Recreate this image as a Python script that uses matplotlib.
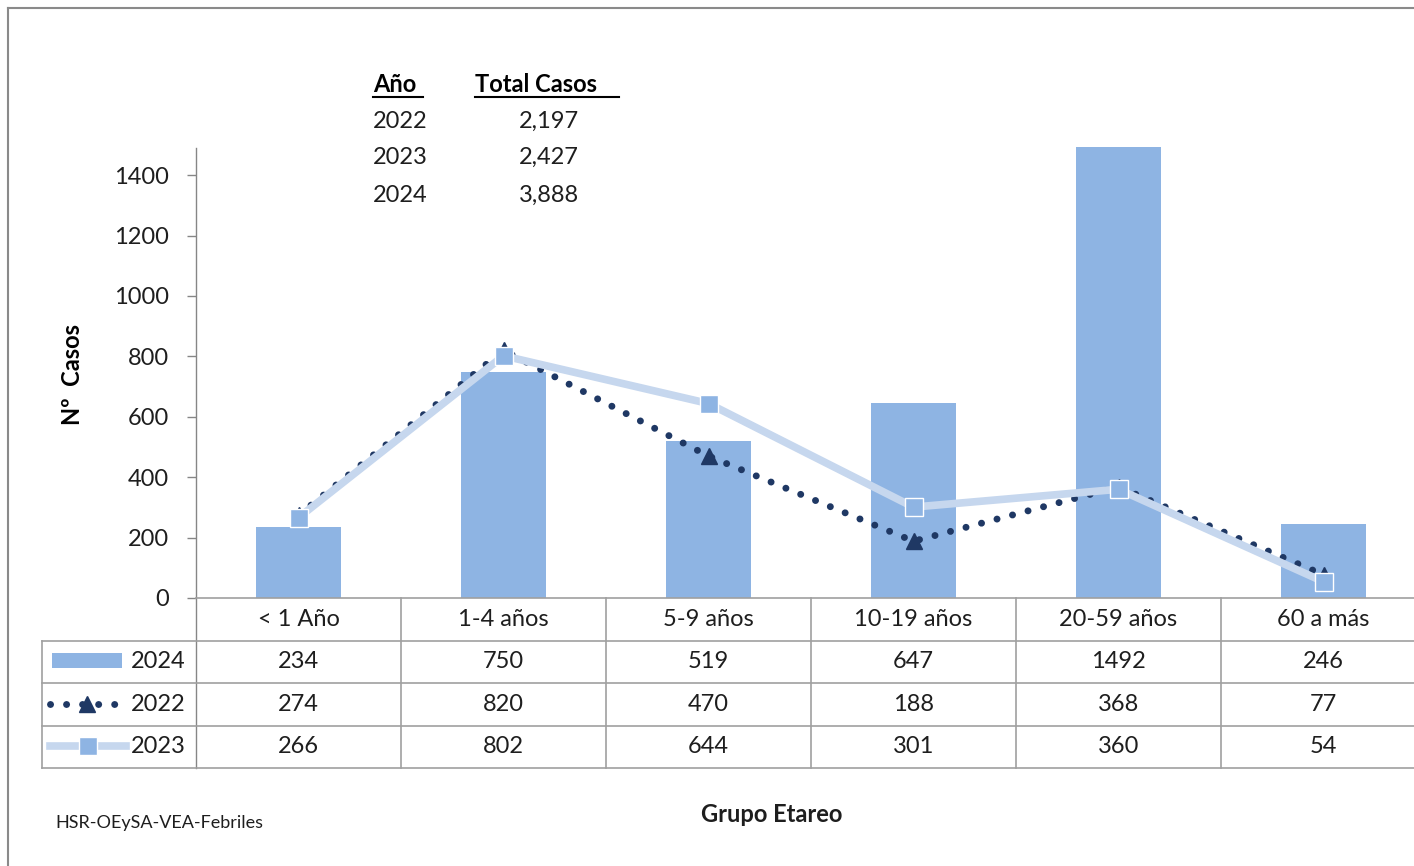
import matplotlib.pyplot as plt
from matplotlib.lines import Line2D
from matplotlib.patches import Rectangle
from matplotlib.transforms import blended_transform_factory
import numpy as np

plt.rcParams['font.family'] = ['Lato', 'DejaVu Sans']

categories = ['< 1 Año', '1-4 años', '5-9 años', '10-19 años', '20-59 años', '60 a más']
cases_2024 = [234, 750, 519, 647, 1492, 246]
cases_2022 = [274, 820, 470, 188, 368, 77]
cases_2023 = [266, 802, 644, 301, 360, 54]

years = ['2022', '2023', '2024']
totals = ['2,197', '2,427', '3,888']

bar_color = '#8eb4e3'
navy = '#1f3864'
light = '#c6d7ee'
grid_gray = '#a0a0a0'
txt = '#1e1e1e'
dots = (0, (0.01, 2.3))

W, H = 1414, 866
fig = plt.figure(figsize=(W / 100, H / 100), dpi=100)


def px(x, y):
    # pixel position (from top-left) -> figure fraction
    return x / W, 1 - y / H


# plot area: x 196..1426, y 145..598 (0..1500)
ax = fig.add_axes([196 / W, 1 - 598 / H, 1230 / W, 453 / H])
x = np.arange(len(categories))
ax.set_xlim(-0.5, len(categories) - 0.5)
ax.set_ylim(0, 1500)

ax.bar(x, cases_2024, width=0.41, color=bar_color, zorder=2)
ax.plot(x, cases_2022, color=navy, lw=5, linestyle=dots,
        dash_capstyle='round', marker='^', ms=11, mfc=navy, mec=navy, zorder=3)
ax.plot(x, cases_2023, color=light, lw=5.5, marker='s', ms=13,
        mfc=bar_color, mec='white', mew=1, zorder=4, solid_capstyle='round')

for s in ax.spines.values():
    s.set_visible(False)
ax.set_xticks([])
ax.set_yticks(np.arange(0, 1401, 200))
ax.tick_params(axis='y', length=6.5, width=1, color='#868686', pad=13,
               labelsize=17, labelcolor=txt)

# table below the axis, in data x / axes-fraction y
tr = blended_transform_factory(ax.transData, ax.transAxes)
row_h = 42.5 / 453
rows_y = [0, -row_h, -2 * row_h, -3 * row_h, -4 * row_h]
left_x = -0.5 - 154 / 205

ax.plot([-0.5, -0.5], [1 - 3 / 453, rows_y[-1]], color='#868686', lw=1,
        transform=tr, clip_on=False)
ax.plot([-0.5, len(categories) - 0.5], [0, 0], color=grid_gray, lw=1.2,
        transform=tr, clip_on=False)
for yy in rows_y[1:]:
    ax.plot([left_x, len(categories) - 0.5], [yy, yy], color=grid_gray, lw=1.2,
            transform=tr, clip_on=False)
ax.plot([left_x, left_x], [rows_y[1], rows_y[-1]], color=grid_gray, lw=1.2,
        transform=tr, clip_on=False)
for b in np.arange(0.5, len(categories) - 0.5):
    ax.plot([b, b], [0, rows_y[-1]], color=grid_gray, lw=1.2,
            transform=tr, clip_on=False)

table_rows = [categories, cases_2024, cases_2022, cases_2023]
for r, vals in enumerate(table_rows):
    yc = (rows_y[r] + rows_y[r + 1]) / 2
    for i, v in enumerate(vals):
        ax.text(i, yc, str(v), transform=tr, ha='center', va='center',
                fontsize=17, color=txt, clip_on=False)

# legend keys in left column
label_x = -0.5 - 10 / 205
for r, name in zip([1, 2, 3], ['2024', '2022', '2023']):
    yc = (rows_y[r] + rows_y[r + 1]) / 2
    ax.text(label_x, yc, name, transform=tr, ha='right', va='center',
            fontsize=17, color=txt, clip_on=False)

x0, y0 = px(52, 668)
x1, y1 = px(122, 653)
fig.add_artist(Rectangle((x0, y0), x1 - x0, y1 - y0, transform=fig.transFigure,
                         facecolor=bar_color, edgecolor='none'))
lx0, ly = px(50, 704)
lx1, _ = px(124, 704)
fig.add_artist(Line2D([lx0, lx1], [ly, ly], transform=fig.transFigure, color=navy,
                      lw=5, linestyle=dots, dash_capstyle='round'))
mx, _ = px(87, 704)
fig.add_artist(Line2D([mx], [ly], transform=fig.transFigure, marker='^', ms=11,
                      color=navy, lw=0))
lx0, ly = px(50, 746)
lx1, _ = px(126, 746)
fig.add_artist(Line2D([lx0, lx1], [ly, ly], transform=fig.transFigure, color=light,
                      lw=5.5))
mx, _ = px(88, 746)
fig.add_artist(Line2D([mx], [ly], transform=fig.transFigure, marker='s', ms=13,
                      mfc=bar_color, mec='white', mew=1, lw=0))

# axis titles and source
fig.text(*px(72, 375), 'Nº  Casos', rotation=90, ha='center', va='center',
         fontsize=17, fontweight='bold', color='black')
fig.text(*px(772, 815), 'Grupo Etareo', ha='center', va='center',
         fontsize=17, fontweight='bold', color=txt)
fig.text(*px(55, 823), 'HSR-OEySA-VEA-Febriles', ha='left', va='center',
         fontsize=13, color=txt)

# totals box
fig.text(*px(373, 84), 'Año', ha='left', va='center', fontsize=17,
         fontweight='bold', color='black')
fig.text(*px(475, 84), 'Total Casos', ha='left', va='center', fontsize=17,
         fontweight='bold', color='black')
for a, b in [(373, 423), (475, 619)]:
    ux0, uy = px(a, 97)
    ux1, _ = px(b, 97)
    fig.add_artist(Line2D([ux0, ux1], [uy, uy], transform=fig.transFigure,
                          color='black', lw=1.5))
for yr, tot, yy in zip(years, totals, [121, 157, 195]):
    fig.text(*px(373, yy), yr, ha='left', va='center', fontsize=17, color=txt)
    fig.text(*px(579, yy), tot, ha='right', va='center', fontsize=17, color=txt)

# outer frame (left and top edges)
fig.add_artist(Line2D([8 / W, 8 / W], [0, 1 - 8 / H], transform=fig.transFigure,
                      color='#8a8a8a', lw=1.5))
fig.add_artist(Line2D([8 / W, 1], [1 - 8 / H, 1 - 8 / H], transform=fig.transFigure,
                      color='#8a8a8a', lw=1.5))

fig.savefig('out.png', dpi=100)
